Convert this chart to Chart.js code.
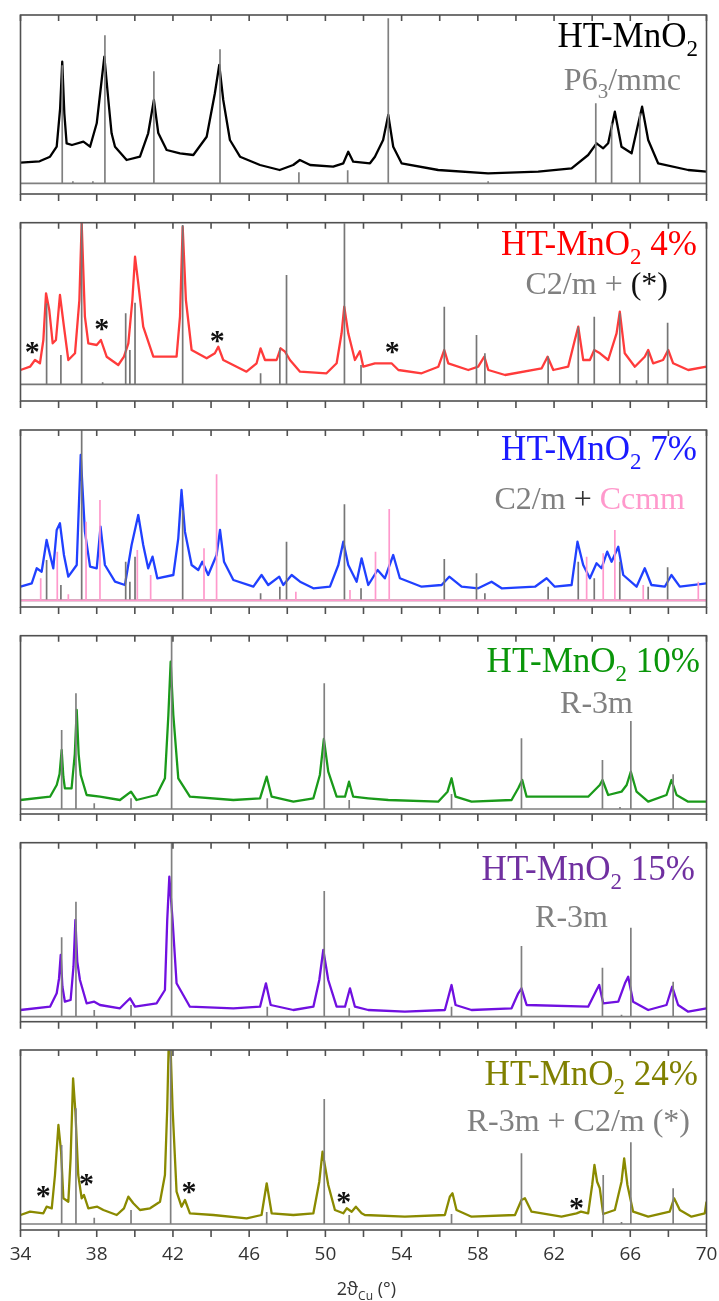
<!DOCTYPE html>
<html>
<head>
<meta charset="utf-8">
<script src="https://cdn.jsdelivr.net/npm/chart.js@4.4.0/dist/chart.umd.min.js"></script>
<style>
  html, body { margin: 0; padding: 0; background: #fff; }
  #wrap { position: relative; width: 719px; height: 1301px; overflow: hidden; }
  #wrap canvas { position: absolute; left: 0; }
</style>
</head>
<body>
<div id="wrap"></div>
<script>
// 2theta range and ticks
const X_MIN = 34, X_MAX = 70;
const tickValues = [34, 36, 38, 40, 42, 44, 46, 48, 50, 52, 54, 56, 58, 60, 62, 64, 66, 68, 70];
const tickLabels = ['34', '38', '42', '46', '50', '54', '58', '62', '66', '70'];

// HT-MnO2 (scan: [2theta, intensity])
const mn0Scan = [[34.0,20.6],[35.0,22],[35.55,26.6],[35.9,36.6],[36.08,75],[36.19,121.6],[36.3,70],[36.42,40],[36.7,38.3],[37.3,41.6],[37.65,36.6],[38.0,60],[38.26,103.3],[38.4,126.6],[38.61,83.3],[38.78,50],[38.96,36.6],[39.57,23.3],[40.27,26.6],[40.7,50],[41.0,83.3],[41.23,50.3],[41.67,33.3],[42.37,30],[43.07,28.3],[43.77,46.6],[44.2,90],[44.43,118.3],[44.64,83.3],[44.99,43.3],[45.52,26.6],[46.57,18.3],[47.6,13.3],[48.31,18.3],[48.66,23.3],[49.2,18.3],[50.41,16.6],[50.94,20],[51.2,31.6],[51.46,21.6],[52.34,20],[52.6,26.6],[53.03,43.3],[53.3,68.3],[53.56,36.6],[54.0,20],[55.92,13.3],[58.54,10],[61.17,11.6],[62.92,15],[63.79,28.3],[64.23,40],[64.58,35],[64.84,40],[65.19,71.6],[65.54,36.6],[66.07,30],[66.38,56.6],[66.62,76.6],[66.94,43.3],[67.46,20],[69.04,13.3],[70.0,11.6]];
const mn0RefPos = [36.19, 36.75, 37.8, 38.43, 41.0, 44.47, 48.61, 51.17, 53.3, 58.54, 64.19, 65.02, 66.5];
const mn0RefInt = [118, 2, 2, 148, 112, 134, 11, 13, 165, 2, 80, 60, 70];

// HT-MnO2 4%
const mn4Scan = [[34.0,14.3],[34.5,17.6],[34.76,24.3],[35.02,21],[35.2,44.3],[35.34,91],[35.51,74.3],[35.69,41],[35.86,44.3],[36.07,89.3],[36.28,57.6],[36.51,24.3],[36.86,31],[37.09,84.3],[37.21,161],[37.38,67.6],[37.56,41],[38.0,39.3],[38.22,44.3],[38.52,27.6],[39.13,19.3],[39.43,27.6],[39.66,41],[39.87,84.3],[40.01,127.6],[40.18,101],[40.44,57.6],[40.97,27.6],[42.19,27.6],[42.37,67.6],[42.51,157.6],[42.68,84.3],[42.98,34.3],[43.77,26],[44.2,31],[44.38,37.6],[44.64,24.3],[45.86,12.6],[46.39,21],[46.6,36],[46.83,24.3],[47.44,24.3],[47.65,36],[47.88,32.6],[48.14,24.3],[48.67,12.6],[50.06,11],[50.59,21],[50.85,51],[50.99,77.6],[51.2,51],[51.55,24.3],[51.81,33],[51.99,17.6],[52.6,21],[53.47,21],[53.83,14.3],[55.05,11],[55.93,17.6],[56.24,34.3],[56.45,21],[57.5,14.3],[58.02,17.6],[58.34,27.6],[58.55,14.3],[59.43,9.3],[61.35,16],[61.66,27.6],[61.96,14.3],[62.74,17.6],[63.09,44.3],[63.27,57.6],[63.53,24.3],[63.88,24.3],[64.11,34.3],[64.41,31],[64.84,24.3],[65.28,51],[65.45,72.6],[65.71,31],[66.24,17.6],[66.76,27.6],[66.94,34.3],[67.2,21],[67.72,24.3],[67.99,34.3],[68.25,21],[69.04,14.3],[70.0,17.6]];
const mn4RefPos = [35.37, 36.12, 37.21, 38.31, 39.52, 39.74, 40.01, 42.51, 46.6, 47.61, 47.96, 51.0, 51.87, 56.24, 57.93, 58.37, 61.69, 63.27, 64.11, 65.45, 66.33, 66.94, 67.96];
const mn4RefInt = [81, 29.3, 161, 2, 71, 34.3, 81.6, 159.3, 11, 36, 109.3, 161, 19.3, 77.6, 49.3, 31, 27.7, 57.6, 67.6, 71, 4, 32.6, 61.6];
const mn4Stars = [[34.62, 37.3], [38.26, 60.3], [44.33, 48.3], [53.51, 37.6]];

// HT-MnO2 7%
const mn7Scan = [[34.0,13.6],[34.59,17],[34.85,32],[35.11,28.6],[35.37,60.3],[35.55,45.3],[35.72,32],[35.9,70.3],[36.07,77],[36.28,45.3],[36.51,23.6],[36.95,35.3],[37.16,145.3],[37.38,68.6],[37.65,33.6],[38.0,32],[38.2,73.6],[38.43,35.3],[38.96,18.6],[39.48,15.3],[39.83,55.3],[40.18,85.3],[40.44,55.3],[40.7,32],[40.93,43.6],[41.18,22],[42.02,25.3],[42.28,62],[42.45,110.3],[42.63,68.6],[42.98,35.3],[43.33,30.3],[43.54,38.6],[43.85,25.3],[44.29,45.3],[44.47,70.3],[44.68,38.6],[45.17,20.3],[46.22,13.6],[46.65,25.3],[47.0,15.3],[47.58,23.6],[47.79,15.3],[48.23,25.3],[48.67,18.6],[49.37,12],[50.24,13.6],[50.68,35.3],[50.94,58.6],[51.2,35.3],[51.64,18.6],[51.9,42],[52.25,15.3],[52.74,30.3],[53.12,22],[53.56,45.3],[53.91,22],[55.05,13.6],[56.1,15.3],[56.5,23.6],[57.15,13.6],[58.02,12],[58.72,18.6],[59.25,12],[61.0,13.6],[61.61,22],[62.04,13.6],[62.92,15.3],[63.23,58.6],[63.53,35.3],[63.88,22],[64.23,37],[64.49,32],[64.79,48.6],[65.02,38.6],[65.37,53.6],[65.63,25.3],[66.33,13.6],[66.76,32],[67.11,15.3],[67.81,13.6],[68.16,25.3],[68.6,13.6],[70.0,17]];
const mn7RefPos = [35.37, 36.12, 37.21, 39.52, 39.74, 40.01, 42.51, 46.6, 47.61, 47.96, 51.0, 51.87, 56.24, 57.93, 58.37, 61.69, 63.27, 64.11, 65.45, 66.94, 67.96];
const mn7RefInt = [40.3, 15.3, 170, 38.6, 18.6, 43.6, 90, 7, 13.6, 58.6, 96, 12, 41.3, 27, 7, 13.6, 38.6, 22, 38.6, 13.6, 33];
const mn7CcmmPos = [35.06, 35.93, 36.51, 37.44, 38.17, 40.13, 40.83, 43.63, 44.29, 48.45, 51.29, 52.63, 53.35, 63.71, 64.58, 65.19, 66.68, 69.57];
const mn7CcmmInt = [22, 48.6, 6, 78.6, 100.3, 50.3, 25.3, 52, 126, 8.6, 10.3, 48.6, 91.3, 43.6, 47, 70.3, 15.3, 18.6];

// HT-MnO2 10%
const mn10Scan = [[34.0,9],[35.55,12.3],[35.9,24],[36.05,35],[36.16,59],[36.25,32],[36.33,20.7],[36.68,20.7],[36.85,55],[36.95,99],[37.05,55],[37.16,34],[37.47,14],[38.17,12.3],[39.22,9],[39.8,17.3],[40.09,9],[41.14,14],[41.58,30.7],[41.76,94],[41.88,147.3],[42.02,94],[42.28,30.7],[42.89,12.3],[45.17,9],[46.57,10.7],[46.92,32.3],[47.18,12.3],[48.32,7.3],[49.37,10.7],[49.71,34],[49.92,70],[50.15,37.3],[50.59,12.3],[51.03,12.3],[51.24,27.3],[51.46,12.3],[52.25,10.7],[53.3,9],[55.92,7.3],[56.41,17.3],[56.62,30.7],[56.83,12.3],[57.67,7.3],[59.77,9],[60.12,20.7],[60.33,29],[60.56,12.3],[63.79,12.3],[64.4,24],[64.54,29],[64.84,14],[65.54,17.3],[65.81,24],[66.03,37.3],[66.33,17.3],[66.94,7.3],[67.9,14],[68.16,29],[68.43,14],[69.04,7.3],[70.0,7.3]];
const mn10RefPos = [36.16, 36.91, 37.87, 39.8, 41.93, 46.95, 49.94, 51.25, 56.62, 60.29, 64.54, 65.46, 66.03, 68.25];
const mn10RefInt = [79, 115.7, 5.7, 10.7, 173, 10.7, 125.7, 9, 15, 70.7, 49, 2, 88, 34.7];

// HT-MnO2 15%
const mn15Scan = [[34.0,6.7],[35.55,10],[35.9,23.4],[36.02,38],[36.11,61.7],[36.2,30],[36.33,15],[36.63,16.7],[36.78,50],[36.88,96.7],[36.98,55],[37.12,36.7],[37.47,13.4],[37.87,15],[38.17,11.7],[39.22,8.4],[39.75,18.4],[40.01,10],[41.14,13.4],[41.58,26.7],[41.7,96.7],[41.81,140],[41.98,96.7],[42.19,33.4],[42.89,10],[45.17,8.4],[46.57,10],[46.88,33.4],[47.13,11.7],[48.32,6.7],[49.37,10],[49.68,36.7],[49.89,66.7],[50.15,36.7],[50.59,10],[51.03,10],[51.29,28.4],[51.55,10],[52.25,6.7],[54.17,5],[56.27,6.7],[56.62,31.7],[56.83,11.7],[57.67,6.7],[59.77,8.4],[60.12,23.4],[60.29,28.4],[60.56,11.7],[63.79,10],[64.23,26.7],[64.37,31.7],[64.58,13.4],[65.37,15],[65.72,33.4],[65.89,40],[66.15,15],[66.94,6.7],[67.9,11.7],[68.2,30],[68.51,11.7],[69.04,5],[70.0,8.4]];
const mn15RefPos = [36.16, 36.91, 37.87, 39.8, 41.93, 46.95, 49.94, 51.25, 56.62, 60.29, 64.54, 65.54, 66.03, 68.25];
const mn15RefInt = [79.4, 115, 6.7, 11.7, 174, 10, 125.7, 8.4, 10, 70.7, 49, 2, 89, 35];

// HT-MnO2 24%
const mn24Scan = [[34.0,9],[34.5,12.3],[35.2,10.7],[35.37,17.3],[35.64,15.7],[35.81,49],[35.99,99],[36.13,72.3],[36.25,25.7],[36.51,22.3],[36.63,65.7],[36.76,145.7],[36.88,112.3],[37.03,49],[37.21,25.7],[37.33,29],[37.56,15.7],[38.03,17.3],[38.35,14],[39.05,9],[39.43,15.7],[39.66,27.3],[39.92,20.7],[40.27,14],[40.8,15.7],[41.32,22.3],[41.58,49],[41.7,115.7],[41.77,174],[41.88,174],[41.98,115.7],[42.19,32.3],[42.45,17.3],[42.63,24],[42.89,10.7],[44.12,9],[45.87,5.7],[46.65,9],[46.92,40.7],[47.18,10.7],[48.32,9],[49.37,10.7],[49.68,42.3],[49.85,72.3],[50.15,39],[50.5,14],[50.94,10.7],[51.12,15.7],[51.38,12.3],[51.6,17.3],[51.9,10.7],[52.07,9],[54.17,7.3],[56.27,9],[56.53,27.3],[56.67,30.7],[56.88,14],[57.67,7.3],[59.95,9],[60.29,24],[60.47,25.7],[60.82,12.3],[62.39,7.3],[63.18,10.7],[63.41,12.3],[63.79,10.7],[64.0,39],[64.12,59],[64.26,42.3],[64.4,35.7],[64.58,10],[65.19,14],[65.54,42.3],[65.68,65.7],[65.85,39],[66.15,12.3],[66.94,7.3],[68.07,12.3],[68.3,25.7],[68.6,14],[69.21,7.3],[69.91,10.7],[70.0,22.3]];
const mn24RefPos = [36.16, 36.91, 37.87, 39.8, 41.88, 46.92, 49.94, 51.25, 56.62, 60.29, 64.58, 65.54, 66.03, 68.25];
const mn24RefInt = [79, 115.7, 6.3, 14, 174, 12, 125, 9, 10, 70.7, 49, 2, 81.7, 35.7];
const mn24Stars = [[35.2, 33.3], [37.47, 44.7], [42.84, 37.3], [50.97, 26.7], [63.18, 20.7]];

// styles
const SERIF = '"Liberation Serif", "Times New Roman", serif';
const SANS = '"Open Sans", "Liberation Sans", sans-serif';
const BIG = '35px ' + SERIF, BIG_SUB = '23px ' + SERIF;
const MID = '32px ' + SERIF, MID_SUB = '21px ' + SERIF;
const GREY = '#808080';

function mnLabel(pct, color) {
  const parts = [{ t: 'HT-MnO', f: BIG, c: color }, { t: '2', f: BIG_SUB, c: color, dy: 9 }];
  if (pct) parts.push({ t: ' ' + pct, f: BIG, c: color });
  return parts;
}

const panels = [
  { top: 15, bottom: 194, base: 183.3, scan: mn0Scan, color: '#000000',
    refs: [[mn0RefPos, mn0RefInt, GREY]],
    labels: [
      { right: 698, y: 47, parts: mnLabel('', '#000') },
      { right: 681, y: 90, parts: [{ t: 'P6', f: MID, c: GREY }, { t: '3', f: MID_SUB, c: GREY, dy: 8 }, { t: '/mmc', f: MID, c: GREY }] }
    ] },
  { top: 222.7, bottom: 401, base: 384.3, scan: mn4Scan, color: '#ff3b3b',
    refs: [[mn4RefPos, mn4RefInt, '#767676']], stars: mn4Stars,
    labels: [
      { right: 697, y: 255, parts: mnLabel('4%', '#ff0000') },
      { right: 668, y: 294, parts: [{ t: 'C2/m + ', f: MID, c: GREY }, { t: '(*)', f: MID, c: '#111' }] }
    ] },
  { top: 430, bottom: 607, base: 600.3, scan: mn7Scan, color: '#2040ff',
    refs: [[mn7CcmmPos, mn7CcmmInt, '#ff99cc'], [mn7RefPos, mn7RefInt, '#767676']],
    labels: [
      { right: 697, y: 460, parts: mnLabel('7%', '#1a1aff') },
      { right: 685, y: 509, parts: [{ t: 'C2/m', f: MID, c: GREY }, { t: ' + ', f: MID, c: '#333' }, { t: 'Ccmm', f: MID, c: '#ff99cc' }] }
    ] },
  { top: 635.7, bottom: 814, base: 809, scan: mn10Scan, color: '#1a9a1a',
    refs: [[mn10RefPos, mn10RefInt, GREY]],
    labels: [
      { right: 700, y: 672, parts: mnLabel('10%', '#0a960a') },
      { right: 633, y: 713, parts: [{ t: 'R-3m', f: MID, c: GREY }] }
    ] },
  { top: 842.7, bottom: 1021.7, base: 1016.7, scan: mn15Scan, color: '#7010e0',
    refs: [[mn15RefPos, mn15RefInt, GREY]],
    labels: [
      { right: 695, y: 880, parts: mnLabel('15%', '#7030a0') },
      { right: 608, y: 927, parts: [{ t: 'R-3m', f: MID, c: GREY }] }
    ] },
  { top: 1050, bottom: 1230, base: 1224, scan: mn24Scan, color: '#8a8a00',
    refs: [[mn24RefPos, mn24RefInt, GREY]], stars: mn24Stars, axis: true,
    labels: [
      { right: 698, y: 1085, parts: mnLabel('24%', '#808000') },
      { right: 690, y: 1131, parts: [{ t: 'R-3m + C2/m (*)', f: MID, c: GREY }] }
    ] }
];

function drawRich(ctx, parts, right, base) {
  let w = 0;
  parts.forEach(p => { ctx.font = p.f; p.w = ctx.measureText(p.t).width; w += p.w; });
  let x = right - w;
  ctx.textAlign = 'left';
  ctx.textBaseline = 'alphabetic';
  parts.forEach(p => {
    ctx.font = p.f; ctx.fillStyle = p.c;
    ctx.fillText(p.t, x, base + (p.dy || 0));
    x += p.w;
  });
}

function stickLine(pos, h) {
  const pts = [{ x: X_MIN, y: 0 }];
  pos.forEach((p, i) => { pts.push({ x: p, y: 0 }, { x: p, y: h[i] }, { x: p, y: 0 }); });
  pts.push({ x: X_MAX, y: 0 });
  return pts;
}

function makeDeco(p, cTop) {
  return {
    id: 'deco',
    afterDatasetsDraw(chart) {
      const { ctx, chartArea: a, scales: { x, y } } = chart;
      ctx.save();
      ctx.strokeStyle = '#505050';
      ctx.lineWidth = 1.6;
      ctx.strokeRect(a.left, a.top, a.right - a.left, a.bottom - a.top);
      ctx.beginPath();
      tickValues.forEach(v => {
        const px = x.getPixelForValue(v);
        ctx.moveTo(px, a.top); ctx.lineTo(px, a.top + 6);
        ctx.moveTo(px, a.bottom); ctx.lineTo(px, a.bottom + 7);
      });
      ctx.stroke();

      (p.stars || []).forEach(s => {
        ctx.font = 'bold 30px ' + SERIF;
        ctx.fillStyle = '#111';
        ctx.textAlign = 'center';
        ctx.textBaseline = 'alphabetic';
        ctx.fillText('*', x.getPixelForValue(s[0]), y.getPixelForValue(s[1]) + 14);
      });

      p.labels.forEach(l => drawRich(ctx, l.parts, l.right, l.y - cTop));

      if (p.axis) {
        ctx.font = '19px ' + SANS;
        ctx.fillStyle = '#333';
        ctx.textAlign = 'center';
        ctx.textBaseline = 'alphabetic';
        tickLabels.forEach(t => ctx.fillText(t, x.getPixelForValue(Number(t)), 1260 - cTop));
        drawRich(ctx, [
          { t: '2ϑ', f: '18px ' + SANS, c: '#333' },
          { t: 'Cu', f: '12px ' + SANS, c: '#333', dy: 5 },
          { t: ' (°)', f: '18px ' + SANS, c: '#333' }
        ], 396, 1295 - cTop);
      }
      ctx.restore();
    }
  };
}

const wrap = document.getElementById('wrap');
panels.forEach((p, i) => {
  const last = i === panels.length - 1;
  const cTop = Math.floor(p.top - 10);
  const cBottom = last ? 1301 : Math.ceil(p.bottom + 10);
  const cv = document.createElement('canvas');
  cv.width = 719;
  cv.height = cBottom - cTop;
  cv.style.top = cTop + 'px';
  cv.style.width = '719px';
  cv.style.height = (cBottom - cTop) + 'px';
  wrap.appendChild(cv);

  const datasets = p.refs.map(r => ({
    data: stickLine(r[0], r[1]),
    borderColor: r[2], borderWidth: 1.7, borderJoinStyle: 'bevel'
  }));
  datasets.push({
    data: p.scan.map(d => ({ x: d[0], y: d[1] })),
    borderColor: p.color, borderWidth: 2.3, borderJoinStyle: 'round'
  });
  datasets.forEach(d => { d.showLine = true; d.pointRadius = 0; d.tension = 0; d.fill = false; });

  new Chart(cv, {
    type: 'scatter',
    data: { datasets },
    options: {
      responsive: false,
      animation: false,
      devicePixelRatio: 1,
      events: [],
      layout: {
        padding: { left: 20.5, right: 12.5, top: p.top - cTop, bottom: cBottom - p.bottom }
      },
      scales: {
        x: { type: 'linear', min: X_MIN, max: X_MAX, display: false },
        y: { min: -(p.bottom - p.base), max: p.base - p.top, display: false }
      },
      plugins: { legend: { display: false }, tooltip: { enabled: false } }
    },
    plugins: [makeDeco(p, cTop)]
  });
});
</script>
</body>
</html>
